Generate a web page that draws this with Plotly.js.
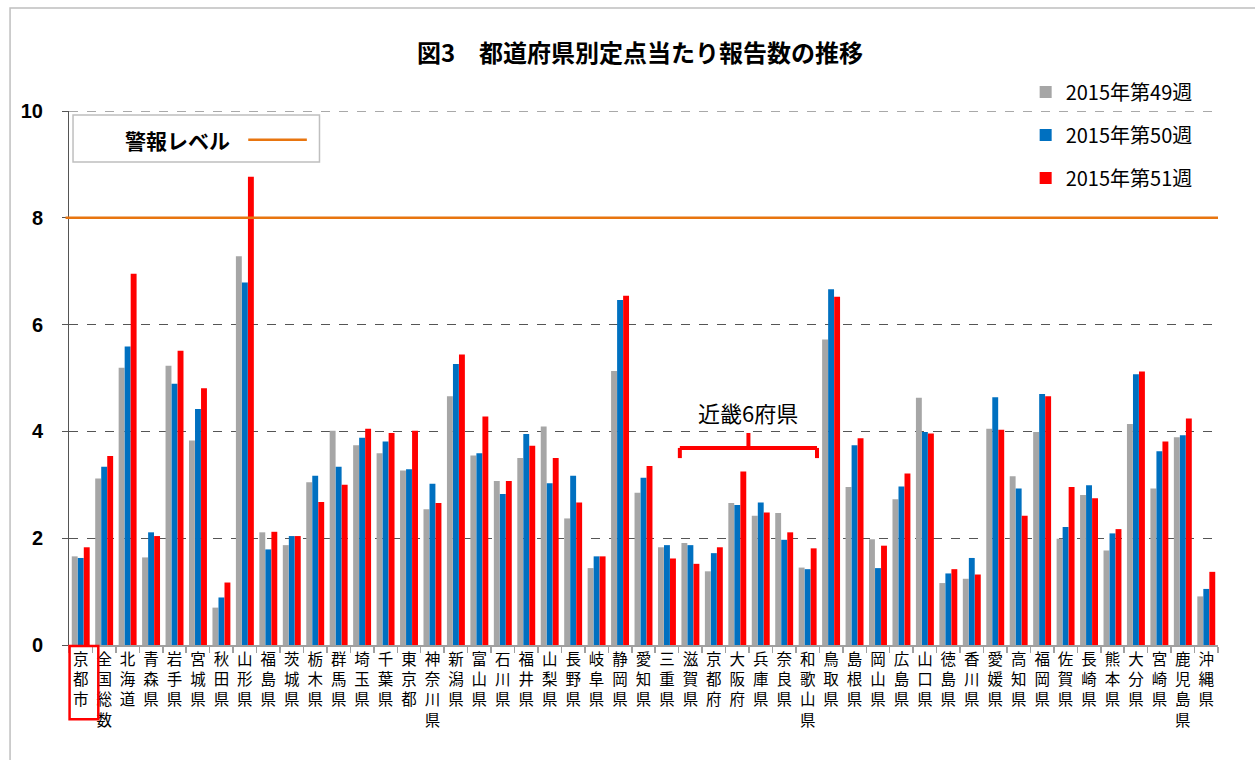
<!DOCTYPE html>
<html><head><meta charset="utf-8">
<script src="https://cdn.plot.ly/plotly-3.0.1.min.js"></script>
<style>html,body{margin:0;padding:0;background:#fff;}</style>
</head><body><div id="chart" style="width:1255px;height:760px;"></div>
<script>
const categories = ['京都市','全国総数','北海道','青森県','岩手県','宮城県','秋田県','山形県','福島県','茨城県','栃木県','群馬県','埼玉県','千葉県','東京都','神奈川県','新潟県','富山県','石川県','福井県','山梨県','長野県','岐阜県','静岡県','愛知県','三重県','滋賀県','京都府','大阪府','兵庫県','奈良県','和歌山県','鳥取県','島根県','岡山県','広島県','山口県','徳島県','香川県','愛媛県','高知県','福岡県','佐賀県','長崎県','熊本県','大分県','宮崎県','鹿児島県','沖縄県'];
const week49 = [1.66,3.12,5.19,1.64,5.23,3.83,0.70,7.28,2.11,1.87,3.05,4.01,3.74,3.59,3.27,2.54,4.66,3.55,3.07,3.50,4.09,2.37,1.44,5.13,2.85,1.83,1.91,1.38,2.66,2.42,2.47,1.45,5.72,2.96,1.98,2.73,4.63,1.16,1.24,4.05,3.16,3.99,1.99,2.81,1.77,4.14,2.93,3.89,0.91];
const week50 = [1.63,3.34,5.59,2.11,4.89,4.42,0.89,6.79,1.79,2.04,3.17,3.34,3.88,3.81,3.29,3.02,5.26,3.59,2.83,3.95,3.03,3.17,1.66,6.46,3.13,1.87,1.87,1.72,2.62,2.67,1.97,1.42,6.66,3.74,1.44,2.97,3.99,1.34,1.63,4.64,2.93,4.70,2.21,2.99,2.09,5.07,3.63,3.93,1.05];
const week51 = [1.83,3.54,6.95,2.04,5.51,4.81,1.17,8.77,2.12,2.04,2.68,3.00,4.05,3.97,4.01,2.66,5.44,4.28,3.07,3.73,3.50,2.67,1.66,6.54,3.35,1.62,1.52,1.83,3.25,2.48,2.11,1.81,6.52,3.87,1.86,3.21,3.96,1.42,1.32,4.03,2.42,4.66,2.96,2.75,2.17,5.12,3.81,4.24,1.37];
const seriesNames = ['2015年第49週','2015年第50週','2015年第51週'];
const seriesColors = ['#A6A6A6','#0070C0','#FF0000'];
const yTickVals = [0,2,4,6,8,10];
const yMax = 10;
const alertLevel = 8;
const alertLabel = '警報レベル';
const kinkiLabel = '近畿6府県';
const kinkiFirst = '滋賀県';
const kinkiLast = '和歌山県';
const titleText = '図3　都道府県別定点当たり報告数の推移';

const JP = '"Noto Sans CJK JP", "Noto Sans", sans-serif';
const seriesValues = [week49, week50, week51];
const traces = seriesValues.map((vals, k) => ({
  type: 'bar', x: categories, y: vals, name: seriesNames[k],
  legendgroup: 'g' + k,
  marker: {color: seriesColors[k], line: {width: 0}},
  hoverinfo: 'x+y+name'
}));

const ticktext = categories.map(c => c.split('').join('<br>'));
const iFirst = categories.indexOf(kinkiFirst);
const iLast = categories.indexOf(kinkiLast);
const bx0 = iFirst - 0.45, bx1 = iLast + 0.4, bxc = (bx0 + bx1) / 2;
const red = '#FF0000';

const layout = {
  width: 1255, height: 760,
  margin: {l: 69, r: 37, t: 111, b: 115},
  paper_bgcolor: '#fff', plot_bgcolor: '#fff',
  title: {text: '<b>' + titleText + '</b>', font: {family: JP, size: 24, color: '#000'}, x: 0.51, xanchor: 'center', y: 0.93, yanchor: 'middle'},
  bargap: 0.23, bargroupgap: 0.02, barmode: 'group',
  showlegend: true,
  legend: {x: 0.8326, xanchor: 'left', y: 1.072, yanchor: 'top', font: {family: JP, size: 20, color: '#000'}, tracegroupgap: 14, bgcolor: 'rgba(0,0,0,0)', itemwidth: 30},
  xaxis: {
    type: 'category', tickmode: 'array', tickvals: categories, ticktext: ticktext,
    tickson: 'boundaries', ticks: 'outside', ticklen: 6, tickcolor: '#A0A0A0', tickwidth: 1.5,
    showline: true, linecolor: '#A0A0A0', linewidth: 1.5,
    tickfont: {family: JP, size: 15.5, color: '#000'}, tickangle: 0,
    range: [-0.5, categories.length - 0.5], fixedrange: true
  },
  yaxis: {
    range: [0, yMax], tickmode: 'array', tickvals: yTickVals, ticktext: yTickVals.map(v => '<b>' + v + '</b>'),
    ticks: 'outside', ticklen: 6, tickcolor: '#555', ticklabelstandoff: 15,
    showline: true, linecolor: '#555', linewidth: 1,
    showgrid: true, gridcolor: '#555', griddash: 'dash', gridwidth: 1,
    zeroline: false,
    tickfont: {family: '"Liberation Sans", Arial, sans-serif', size: 20, color: '#000'}
  },
  shapes: [
    {type: 'rect', xref: 'paper', yref: 'paper', x0: -0.0513, x1: 1.2, y0: -0.5, y1: 1.193, line: {color: '#BFBFBF', width: 1.5}, fillcolor: 'rgba(0,0,0,0)'},
    {type: 'line', xref: 'paper', yref: 'y', x0: 0, x1: 1, y0: yMax, y1: yMax, line: {color: '#555', width: 1, dash: 'dash'}},
    {type: 'line', xref: 'paper', yref: 'y', x0: -0.003, x1: 1, y0: alertLevel, y1: alertLevel, line: {color: '#E8750F', width: 2.5}},
    {type: 'rect', xref: 'paper', yref: 'paper', x0: 0.0035, x1: 0.218, y0: 0.9045, y1: 0.9925, line: {color: '#BFBFBF', width: 1.5}, fillcolor: '#fff'},
    {type: 'line', xref: 'paper', yref: 'paper', x0: 0.156, x1: 0.207, y0: 0.946, y1: 0.946, line: {color: '#E8750F', width: 2.5}},
    {type: 'rect', xref: 'paper', yref: 'paper', x0: 0.0005, x1: 0.0255, y0: -0.139, y1: -0.002, line: {color: red, width: 2.5}},
    {type: 'line', xref: 'x', yref: 'y', x0: bx0, x1: bx1, y0: 3.69, y1: 3.69, line: {color: red, width: 4}},
    {type: 'line', xref: 'x', yref: 'y', x0: bx0, x1: bx0, y0: 3.69, y1: 3.50, line: {color: red, width: 4}},
    {type: 'line', xref: 'x', yref: 'y', x0: bx1, x1: bx1, y0: 3.69, y1: 3.50, line: {color: red, width: 4}},
    {type: 'line', xref: 'x', yref: 'y', x0: bxc, x1: bxc, y0: 3.69, y1: 3.97, line: {color: red, width: 4}}
  ],
  annotations: [
    {xref: 'paper', yref: 'paper', x: 0.094, y: 0.946, text: '<b>' + alertLabel + '</b>', showarrow: false, font: {family: JP, size: 21, color: '#000'}, xanchor: 'center', yanchor: 'middle'},
    {xref: 'x', yref: 'y', x: bxc, y: 4.36, text: kinkiLabel, showarrow: false, font: {family: JP, size: 22, color: '#000'}, xanchor: 'center', yanchor: 'middle'}
  ]
};
Plotly.newPlot('chart', traces, layout, {displayModeBar: false, staticPlot: true});
</script></body></html>
